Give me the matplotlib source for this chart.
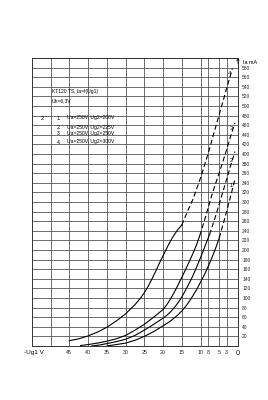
import matplotlib
matplotlib.use("Agg")
import matplotlib.pyplot as plt

plt.rcParams['font.family'] = ['Liberation Sans', 'DejaVu Sans']

# -Ug1 (V) / Ia (mA), solid part and dashed part of each curve
c1_ug = [35, 32.5, 30, 27.5, 25, 22.5, 20, 18, 16, 15, 14, 13, 12, 11, 10, 9, 8, 7, 6, 5]
c1_ia = [0, 3, 6, 12, 20, 30, 42, 52, 65, 73, 82, 93, 105, 118, 133, 148, 165, 183, 203, 225]
c1d_ug = [5, 4, 3, 1.9, 0.8]
c1d_ia = [225, 253, 281, 314, 348]

c2_ug = [39, 37, 35, 32.5, 30, 27.5, 25, 22.5, 20, 19, 18, 17, 16, 15, 14, 13, 12, 11, 10, 9, 8, 7.6]
c2_ia = [0, 2, 5, 9, 14, 22, 33, 45, 58, 64, 71, 80, 90, 102, 116, 131, 147, 165, 184, 204, 224, 232]
c2d_ug = [7.6, 6, 5, 4, 3, 2, 0.8]
c2d_ia = [232, 270, 296, 322, 348, 375, 405]

c3_ug = [42, 40, 37.5, 35, 32.5, 30, 27.5, 25, 22.5, 20, 19, 18, 17, 16, 15, 14, 13, 12, 11, 10.2]
c3_ia = [1, 3, 6, 10, 15, 22, 33, 45, 60, 76, 86, 98, 112, 127, 143, 159, 176, 193, 212, 230]
c3d_ug = [10.2, 9, 8, 7, 6, 5, 4, 3, 2, 0.8]
c3d_ia = [230, 260, 287, 314, 338, 361, 385, 410, 436, 465]

c4_ug = [45, 42.5, 40, 37.5, 35, 32.5, 30, 27.5, 26, 25, 24, 23, 22, 21, 20, 19, 18, 17, 16, 15]
c4_ia = [11, 15, 21, 29, 39, 52, 67, 86, 100, 111, 124, 139, 155, 172, 188, 204, 219, 232, 243, 252]
c4d_ug = [15, 13.5, 12, 10, 8, 6, 4, 1.5]
c4d_ia = [252, 280, 306, 350, 400, 455, 510, 578]

x_ticks = [50, 45, 40, 35, 30, 25, 20, 15, 10, 8, 5, 3, 0]
x_labels = ['', '45', '40', '35', '30', '25', '20', '15', '10', '8', '5', '3', '0']
y_ticks = list(range(0, 620, 20))
y_labels = [str(v) if 0 < v < 600 else '' for v in y_ticks]

legend_rows = ["Ua=250V, Ug2=200V", "Ua=250V, Ug2=225V",
               "Ua=250V, Ug2=250V", "Ua=250V, Ug2=300V"]

fig = plt.figure(figsize=(2.68, 4.0), dpi=100)
ax = fig.add_axes([0.119, 0.135, 0.769, 0.72])
ax.set_xlim(55, 0)
ax.set_ylim(0, 600)

ax.set_xticks(x_ticks)
ax.set_xticklabels(x_labels, fontsize=3.8)
ax.xaxis.get_ticklabels()[-1].set_fontsize(5.5)
ax.yaxis.tick_right()
ax.set_yticks(y_ticks)
ax.set_yticklabels(y_labels, fontsize=3.5)
ax.tick_params(length=0, pad=3, colors='#222222')
ax.grid(True, color='#555555', lw=0.6)
for s in ax.spines.values():
    s.set_color('#333333')
    s.set_linewidth(0.7)

for ug, ia, ugd, iad in [(c1_ug, c1_ia, c1d_ug, c1d_ia), (c2_ug, c2_ia, c2d_ug, c2d_ia),
                         (c3_ug, c3_ia, c3d_ug, c3d_ia), (c4_ug, c4_ia, c4d_ug, c4d_ia)]:
    ax.plot(ug, ia, color='black', lw=0.8)
    ax.plot(ugd, iad, color='black', lw=0.8, dashes=(4.5, 2.5))

# curve numbers
for t, x, y in [('4', 2.3, 567), ('3', 1.8, 454), ('2', 1.9, 387), ('1', 1.9, 335)]:
    ax.text(x, y, t, fontsize=4, ha='center', va='center')

ax.text(49.7, 531, "KT120 TS, Ia=f(Ug1)", fontsize=3.6, va='center')
ax.text(49.7, 510, "Uh=6,3V", fontsize=3.6, va='center')
ax.text(52.6, 473, "2.", fontsize=4, va='center')
for i, (row, y) in enumerate(zip(legend_rows, [475, 456, 442, 425])):
    ax.text(48.3, y, f"{i + 1}.", fontsize=3.6, va='center')
    ax.text(45.7, y, row, fontsize=3.6, va='center')

ax.text(1.025, 0.985, "Ia mA", transform=ax.transAxes, fontsize=4, va='center')
ax.annotate('', xy=(1.0, 1.012), xytext=(1.0, 0.97), xycoords='axes fraction',
            arrowprops=dict(arrowstyle='-|>', color='#222222', lw=0.6,
                            mutation_scale=4))
ax.text(-0.04, -0.015, "-Ug1 V", transform=ax.transAxes, fontsize=4.6, va='top')

fig.savefig("out.png", dpi=100, facecolor='white')
